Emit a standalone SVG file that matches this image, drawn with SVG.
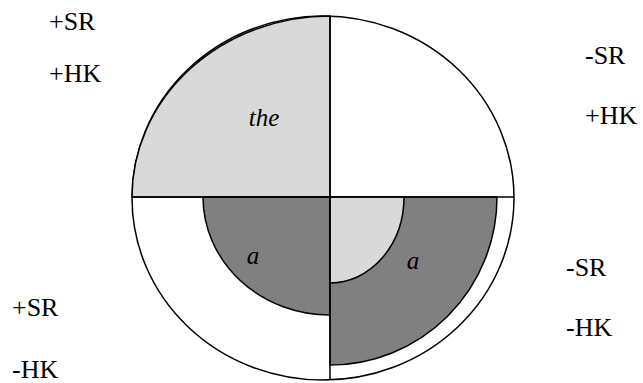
<svg xmlns="http://www.w3.org/2000/svg" width="643" height="383" viewBox="0 0 643 383">
<style>
.ln{stroke:#000;stroke-width:1.5;fill:none}
.sh{stroke:#000;stroke-width:1.5}
.lg{fill:#d9d9d9}
.dg{fill:#808080}
.lbl{font-family:"Liberation Serif","Times New Roman",serif;font-size:26px;fill:#000}
.it{font-family:"Liberation Serif","Times New Roman",serif;font-size:25px;font-style:italic;fill:#000}
</style>
<rect width="643" height="383" fill="#fff"/>
<g id="outer">
<ellipse class="ln" cx="323" cy="198" rx="191" ry="182" fill="#fff"/>
</g>
<g id="the-quadrant">
<path class="sh lg" d="M330,197 L132,197 A198,181 0 0 1 330,16 Z"/>
<text class="it" x="264" y="126" text-anchor="middle">the</text>
</g>
<g id="a-left">
<path class="sh dg" d="M330,197 L203,197 A127,118 0 0 0 330,315 Z"/>
<text class="it" x="253" y="264" text-anchor="middle">a</text>
</g>
<g id="a-right">
<path class="sh dg" d="M330,197 L497,197 A167,168 0 0 1 330,365 Z"/>
<path class="sh lg" d="M330,197 L404,197 A74,86 0 0 1 330,283 Z"/>
<text class="it" x="413" y="269" text-anchor="middle">a</text>
</g>
<g id="axes">
<line class="ln" x1="132" y1="197" x2="514" y2="197"/>
<line class="ln" x1="330" y1="16" x2="330" y2="380"/>
</g>
<g id="labels">
<text class="lbl" x="49" y="30">+SR</text>
<text class="lbl" x="49" y="82">+HK</text>
<text class="lbl" x="585" y="64">-SR</text>
<text class="lbl" x="585" y="124">+HK</text>
<text class="lbl" x="566" y="276">-SR</text>
<text class="lbl" x="566" y="336">-HK</text>
<text class="lbl" x="12" y="316">+SR</text>
<text class="lbl" x="12" y="378">-HK</text>
</g>
</svg>
